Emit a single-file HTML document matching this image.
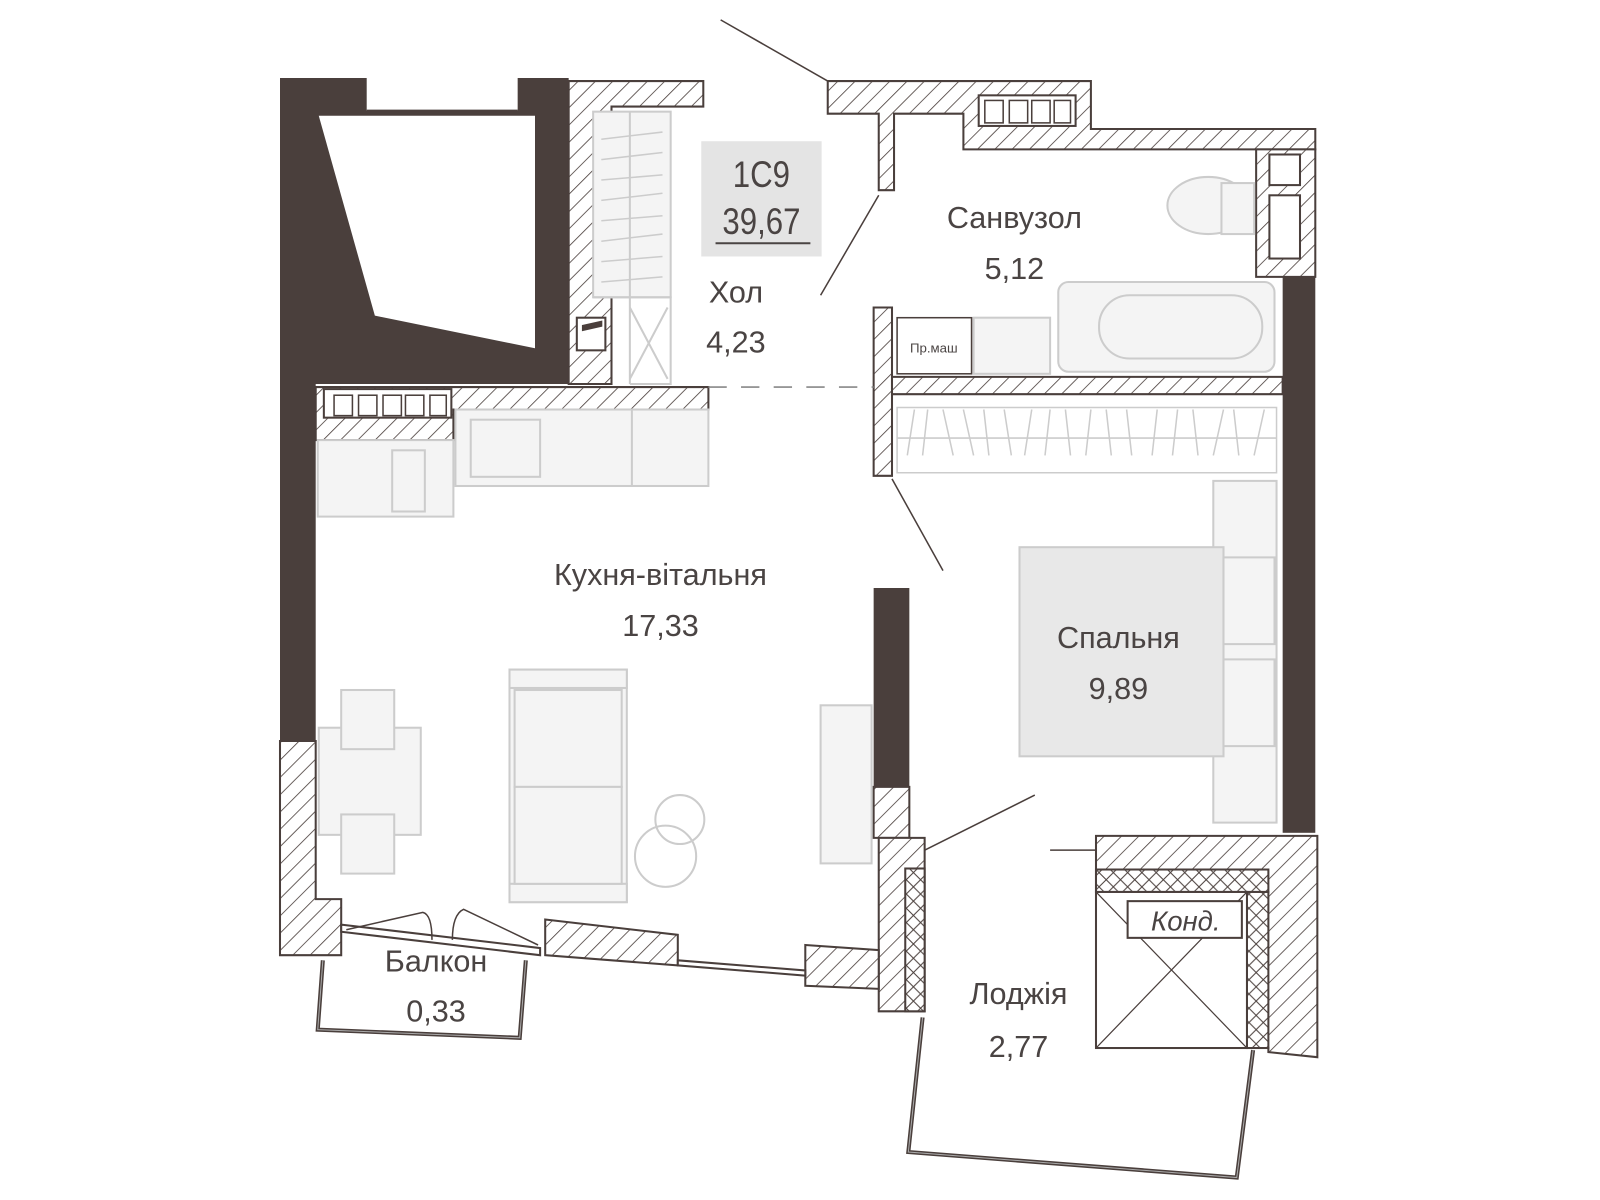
<!DOCTYPE html>
<html><head><meta charset="utf-8"><style>
html,body{margin:0;padding:0;background:#fff;width:1600px;height:1200px;overflow:hidden}
svg{display:block}
text{font-family:"Liberation Sans",sans-serif;fill:#4a4443}
</style></head><body>
<svg width="1600" height="1200" viewBox="0 0 1600 1200">
<defs>
<pattern id="h" width="12" height="12" patternUnits="userSpaceOnUse" patternTransform="rotate(45)">
<rect width="12" height="12" fill="#fff"/><line x1="0" y1="0" x2="0" y2="12" stroke="#4a3f3c" stroke-width="1.6"/></pattern>
<pattern id="x" width="14" height="14" patternUnits="userSpaceOnUse">
<rect width="14" height="14" fill="#fff"/><path d="M0 0L14 14M14 0L0 14" stroke="#4a3f3c" stroke-width="1"/></pattern>
</defs>
<g transform="translate(-0.5,1.5) scale(1.02)">
<g stroke="#4a3f3c" stroke-width="2">
<!-- dark left block -->
<rect x="275" y="75" width="283" height="300" fill="#4a3f3c" stroke="none"/>
<rect x="360" y="60" width="148" height="47" fill="#fff" stroke="none"/>
<line x1="360" y1="107" x2="508" y2="107"/>
<polygon points="313,112 525,112 525,340 368,308" fill="#fff" stroke="none"/>
<rect x="275" y="375" width="35" height="350" fill="#4a3f3c" stroke="none"/>
<!-- hatched walls left/top -->
<path d="M558 78H690V103H600V375H558Z" fill="url(#h)"/>
<path d="M310 378H695V400H445V430H310Z" fill="url(#h)"/>
<rect x="318" y="380" width="125" height="28" fill="#fff"/>
<g fill="#fff" stroke-width="1.5"><rect x="328" y="386" width="18" height="20"/><rect x="352" y="386" width="18" height="20"/><rect x="376" y="386" width="18" height="20"/><rect x="398" y="386" width="18" height="20"/><rect x="422" y="386" width="16" height="20"/></g>
<rect x="566" y="310" width="28" height="32" fill="#fff"/><polygon points="572,318 590,314 590,318 572,322" fill="#4a3f3c"/>
<!-- top right walls -->
<path d="M812 78H1070V125H1290V145H945V110H877V185H862V110H812Z" fill="url(#h)"/>
<rect x="960" y="92" width="95" height="30" fill="#fff"/>
<g fill="#fff" stroke-width="1.5"><rect x="966" y="97" width="18" height="22"/><rect x="990" y="97" width="18" height="22"/><rect x="1012" y="97" width="18" height="22"/><rect x="1034" y="97" width="16" height="22"/></g>
<path d="M1232 145H1290V270H1232Z" fill="url(#h)"/>
<rect x="1245" y="150" width="30" height="30" fill="#fff"/><rect x="1245" y="190" width="30" height="62" fill="#fff"/>
<rect x="1258" y="270" width="32" height="545" fill="#4a3f3c" stroke="none"/>
<!-- bathroom partition -->
<path d="M857 300H875V465H857Z" fill="url(#h)"/>
<path d="M875 368H1258V385H875Z" fill="url(#h)"/>
<!-- middle wall -->
<rect x="857" y="575" width="35" height="195" fill="#4a3f3c" stroke="none"/>
<path d="M857 770H892V820H857Z" fill="url(#h)"/>
<path d="M862 820H907V990H862Z" fill="url(#h)"/>
<rect x="888" y="850" width="19" height="140" fill="url(#x)"/>
<!-- left lower wall -->
<path d="M275 725H310V880H335V935H275Z" fill="url(#h)"/>
<!-- bottom walls -->
<path d="M535 900L665 915V945L535 935Z" fill="url(#h)"/>
<path d="M790 925L862 930V968L790 965Z" fill="url(#h)"/>
<path d="M335 905L530 928V935L335 912Z" fill="#fff"/>
<path d="M665 940L790 950V955L665 945Z" fill="#fff"/>
<!-- right loggia wall -->
<path d="M1075 818H1292V1035L1244 1030V1026H1223V873H1075Z" fill="url(#h)"/>
<rect x="1075" y="851" width="169" height="22" fill="url(#x)"/>
<rect x="1223" y="873" width="21" height="153" fill="url(#x)"/>
<rect x="1075" y="873" width="148" height="153" fill="#fff"/>
<path d="M1075 873L1223 1026M1223 873L1075 1026" stroke-width="1.2"/>
<rect x="1106" y="882" width="112" height="36" fill="#fff"/>
</g>
<!-- balcony & loggia outlines -->
<g fill="none" stroke-linejoin="miter">
<path d="M317 940L312 1008L510 1016L516 940" stroke="#4a3f3c" stroke-width="4"/>
<path d="M317 940L312 1008L510 1016L516 940" stroke="#aaa" stroke-width="1"/>
<path d="M905 996L891 1128L1213 1153L1229 1028" stroke="#4a3f3c" stroke-width="4"/>
<path d="M905 996L891 1128L1213 1153L1229 1028" stroke="#aaa" stroke-width="1"/>
</g>
<!-- door swings / leaders -->
<g stroke="#4a3f3c" stroke-width="1.5" fill="none">
<line x1="707" y1="18" x2="812" y2="78"/>
<line x1="862" y1="190" x2="805" y2="288"/>
<line x1="875" y1="468" x2="925" y2="558"/>
<line x1="907" y1="832" x2="1015" y2="778"/>
<line x1="1030" y1="832" x2="1075" y2="832"/>
<line x1="695" y1="378" x2="857" y2="378" stroke="#888" stroke-dasharray="18,14"/>
<path d="M340 910L415 893Q424 895 424 920"/><path d="M528 925L455 890Q444 895 444 920"/>
</g>
<!-- furniture (light grey) -->
<g stroke="#ccc" stroke-width="2" fill="#f4f4f4">
<rect x="582" y="108" width="76" height="182"/>
<path d="M618 108V375M582 290H658V375H618" fill="none"/>
<path d="M618 300L655 370M655 300L618 370" fill="none"/>
<rect x="312" y="430" width="133" height="75"/><rect x="385" y="440" width="32" height="60"/>
<rect x="447" y="400" width="248" height="75"/><rect x="462" y="410" width="68" height="56"/><line x1="620" y1="400" x2="620" y2="475"/>
<rect x="1190" y="470" width="62" height="335"/>
<rect x="1000" y="535" width="200" height="205" fill="#e8e8e8"/>
<rect x="1200" y="545" width="50" height="85"/><rect x="1200" y="645" width="50" height="85"/>
<rect x="1038" y="275" width="212" height="88" rx="10"/>
<rect x="1078" y="288" width="160" height="62" rx="30"/>
<rect x="955" y="310" width="75" height="55"/>
<ellipse cx="1185" cy="200" rx="40" ry="28"/><rect x="1198" y="178" width="32" height="50"/>
<rect x="313" y="712" width="100" height="105"/><rect x="335" y="675" width="52" height="58"/><rect x="335" y="797" width="52" height="58"/>
<rect x="500" y="655" width="115" height="228"/><rect x="500" y="655" width="115" height="18"/><rect x="500" y="865" width="115" height="18"/>
<rect x="505" y="675" width="105" height="95"/><rect x="505" y="770" width="105" height="95"/>
<circle cx="667" cy="802" r="24" fill="none"/><circle cx="653" cy="838" r="30" fill="none"/>
<rect x="805" y="690" width="50" height="155"/>
</g>
<g stroke="#ccc" stroke-width="1.5" fill="none">
<path d="M880 398H1252V462H880ZM880 428H1252"/>
<path d="M890 445L897 400M905 445L910 400M925 400L935 445M945 400L955 445M965 400L970 445M985 400L992 445M1005 445L1012 400M1025 445L1030 400M1045 400L1050 445M1065 445L1070 400M1085 400L1090 445M1105 400L1110 445M1130 445L1135 400M1150 445L1155 400M1170 400L1175 445M1190 445L1200 400M1210 400L1215 445M1230 445L1240 400"/>
<path d="M590 135L650 128M590 155L650 148M590 175L650 170M590 195L650 188M590 215L650 210M590 235L650 228M590 255L650 250M590 275L650 270"/>
</g>
<rect x="880" y="310" width="73" height="55" fill="#fff" stroke="#4a3f3c" stroke-width="1.5"/>
<text x="916" y="344" font-size="13" text-anchor="middle">Пр.маш</text>
<!-- labels -->
<rect x="688" y="137" width="118" height="113" fill="#e4e4e4"/>
<text x="747" y="182" font-size="36" text-anchor="middle" transform="translate(747 0) scale(0.85 1) translate(-747 0)">1С9</text>
<text x="747" y="228" font-size="36" text-anchor="middle" transform="translate(747 0) scale(0.85 1) translate(-747 0)">39,67</text>
<line x1="702" y1="237" x2="795" y2="237" stroke="#4a4443" stroke-width="2"/>
<g font-size="30" text-anchor="middle">
<text x="722" y="295">Хол</text><text x="722" y="344">4,23</text>
<text x="995" y="222">Санвузол</text><text x="995" y="272">5,12</text>
<text x="648" y="572">Кухня-вітальня</text><text x="648" y="622">17,33</text>
<text x="1097" y="634">Спальня</text><text x="1097" y="684">9,89</text>
<text x="428" y="951">Балкон</text><text x="428" y="1000">0,33</text>
<text x="999" y="983">Лоджія</text><text x="999" y="1035">2,77</text>
</g>
<text x="1163" y="911" font-size="27" font-style="italic" text-anchor="middle">Конд.</text>
</g>
</svg>
</body></html>
